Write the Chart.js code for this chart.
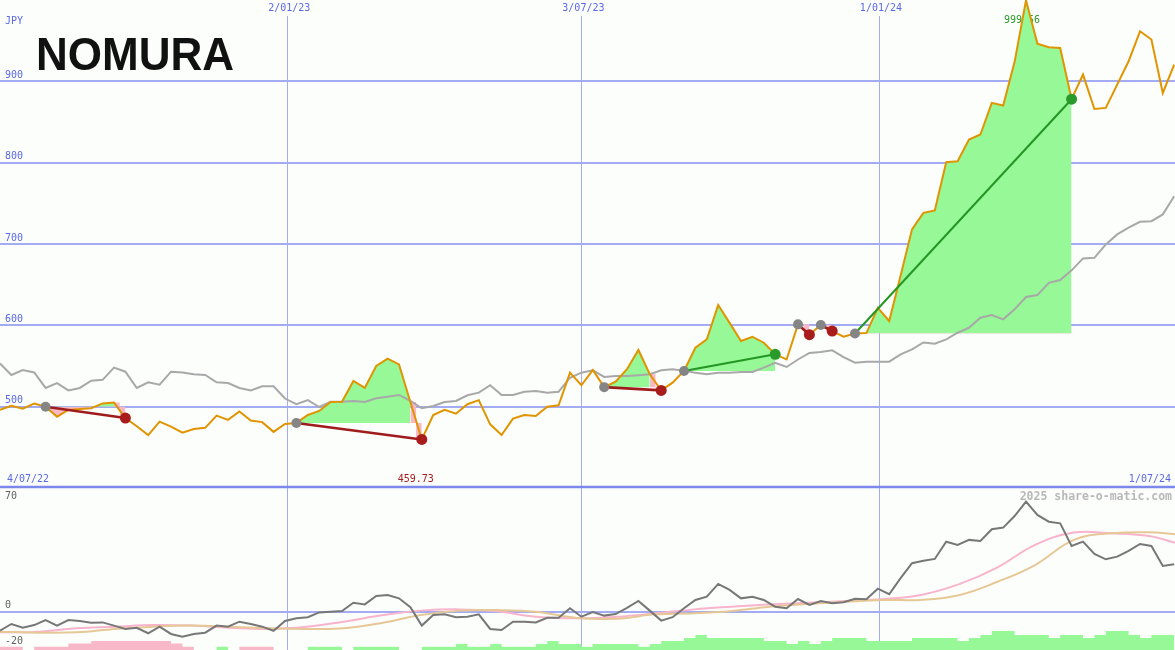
<!DOCTYPE html>
<html>
<head>
<meta charset="utf-8">
<title>NOMURA - share-o-matic</title>
<script src="https://cdn.jsdelivr.net/npm/chart.js@4.4.1/dist/chart.umd.min.js"></script>
<style>
    html, body { margin: 0; padding: 0; background: #fcfefc; }
    #wrap { position: relative; width: 1175px; height: 650px; overflow: hidden; }
    canvas { position: absolute; left: 0; }
    #priceChart { top: 0; }
    #oscChart { top: 490px; }
</style>
</head>
<body>
<div id="wrap">
    <canvas id="priceChart" width="1175" height="490"></canvas>
    <canvas id="oscChart" width="1175" height="160"></canvas>
</div>
<script>
/**
 * Data (weekly, index 0 = 4/07/22)
 */
const brand = 'NOMURA';
const currency = 'JPY';
const dateStart = '4/07/22';
const dateEnd = '1/07/24';
const dateTicks = ['2/01/23', '3/07/23', '1/01/24'];
const dateTickIdx = [25.2, 51, 77.1];
const priceTicks = [500, 600, 700, 800, 900];
const oscTicks = [70, 0, -20];
const watermark = '2025 share-o-matic.com';

const price = [
    496, 501, 497.5, 503.7, 500, 487.7, 496, 497, 498, 504,
    505, 486, 476, 465, 481.6, 475.4, 468, 472.6, 474, 489,
    483.7, 494, 483, 481, 469, 478.7, 480, 489.8, 494.7, 505.8,
    506, 531.6, 523, 550, 559, 552, 505.8, 459.73, 489.8, 496,
    491.4, 503, 508, 478.3, 465.2, 485.3, 489.8, 488.6, 500, 501.7,
    541.8, 526.3, 545, 524, 530.7, 546, 569.7, 539.8, 520, 529.5,
    543.9, 572.5, 582.8, 625, 603, 580.7, 586, 578.6, 564.4, 558,
    601.2, 588.5, 600.4, 593, 586, 590, 590.5, 621.6, 605.3, 661,
    718, 738.3, 741.3, 800.6, 801.8, 828.5, 834.6, 873.5, 870.3, 924,
    999.56, 946.4, 941.9, 941, 878, 908.3, 866, 867.3, 896, 924.7,
    961.5, 951.4, 885.7, 920.6,
];

const avgLine = [
    553, 539, 545, 542, 523, 529, 520, 523, 532, 533,
    548, 543, 523, 530, 527, 543, 542, 540, 539, 530,
    529, 523, 520, 525, 525, 510, 503, 508, 499.6, 506,
    506, 507, 505.8, 510.3, 512.3, 514.4, 507, 498, 500.9, 505.8,
    507, 514, 517.2, 526.3, 514.4, 514.4, 518.4, 519.3, 517.2, 518.4,
    535.6, 541.8, 544.7, 536.5, 537.7, 537.7, 538.6, 539.8, 544.7, 546,
    544, 541.8, 539.8, 541.8, 541.8, 542.6, 542.6, 548, 554, 548.8,
    558, 566, 567.2, 569.3, 561, 554, 555.3, 555.3, 555.3, 564.4,
    570.5, 579, 577.4, 582.8, 590.9, 597, 609.3, 612.7, 607.4, 619.7,
    634.8, 637.2, 652.3, 655.7, 667.6, 682.3, 683, 699.5, 711.8, 720,
    727.3, 728, 736.4, 758.8,
];

const oscLine = [
    -10.7, -6.9, -9, -7.5, -4.7, -7.8, -4.7, -5.2, -6.2, -6,
    -7.8, -9.7, -9, -12.1, -8.4, -12.5, -14, -12.5, -11.8, -7.8,
    -8.4, -5.6, -6.9, -8.4, -10.7, -5.2, -3.7, -3.1, -0.4, 0,
    0.4, 5, 4.1, 8.8, 9.4, 7.5, 2.5, -7.8, -1.9, -1.5,
    -3.1, -2.8, -1.5, -9.7, -10.3, -5.6, -5.6, -6, -3.4, -3.4,
    1.9, -2.8, -0.2, -2.2, -1.3, 2.2, 6, 0.6, -5, -3.1,
    1.9, 6.6, 8.4, 15.6, 12.2, 7.5, 8.4, 6.6, 2.8, 1.9,
    7.1, 3.8, 6, 4.7, 5.3, 7.3, 7, 12.9, 9.8, 18.8,
    27.2, 28.6, 29.6, 39.3, 37.5, 40.3, 39.7, 46.3, 47.2, 53.7,
    61.8, 54.3, 50.5, 49.6, 36.9, 39.3, 32.4, 29.4, 30.9, 34.1,
    38, 36.9, 25.7, 26.6,
];

// smooth signal lines, read at these week positions
const sigX = [
    0, 3.4, 6.7, 10.1, 13.4, 16.8, 20.1, 23.5, 26.9, 30.2,
    33.6, 36.9, 40.3, 43.6, 47, 50.9, 54.2, 57.5, 60.9, 64.2,
    67.5, 70.9, 74.2, 77.5, 80.8, 84.2, 87.5, 90.8, 94.2, 97.5,
    100.8, 103.07,
];
const sigPink = [
    -11.6, -11.2, -9.3, -8.4, -7.5, -7.8, -9, -9.7, -8.4, -5.6,
    -1.9, 0.6, 1.3, 0.2, -2.8, -3.7, -2.8, -0.9, 1.3, 2.8,
    4.1, 5, 6, 7.1, 9.4, 15.6, 24.9, 37.5, 44.4, 44,
    42.5, 38.7,
];
const sigTan = [
    -11.2, -11.8, -11.6, -9.7, -8.4, -7.8, -8.4, -9.3, -9.7, -9.3,
    -6.2, -1.9, 0.6, 0.9, 0, -3.7, -3.9, -1.5, -0.9, 0.4,
    2.8, 4.3, 5.6, 6.6, 6.6, 9.4, 16.8, 26.2, 40.3, 44,
    44.6, 43.5,
];

const histogram = [
    -1.1, -1.1, -1.1, 0, -1.1, -1.1, -1.1, -2.2, -2.2, -3,
    -3, -3, -3, -3, -3, -3, -2.2, -1.1, 0, 0,
    1.1, 0, -1.1, -1.1, -1.1, 0, 0, 0, 1.1, 1.1,
    1.1, 0, 1.1, 1.1, 1.1, 1.1, 0, 0, 1.1, 1.1,
    1.1, 2, 1.1, 1.1, 2, 1.1, 1.1, 1.1, 2, 3,
    2, 2, 1.1, 2, 2, 2, 2, 1.1, 2, 3,
    3, 4, 5, 4, 4, 4, 4, 4, 3, 3,
    2, 3, 2, 3, 4, 4, 4, 3, 3, 3,
    3, 4, 4, 4, 4, 3, 4, 5, 6.3, 6.3,
    5, 5, 5, 4, 5, 5, 4, 5, 6.3, 6.3,
    5, 4, 5, 5,
];

// trades: entry / exit week index
const tradeEntry = [4, 26, 53, 60, 70, 72, 75];
const tradeExit = [11, 37, 58, 68, 71, 73, 94];

/**
 * Styles
 */
const X_MAX = 103.07;
const COLORS = {
    bg: '#fcfefc',
    grid: '#a3acf2',
    axis: '#7b87ea',
    label: '#5a68e6',
    oscLabel: '#606060',
    price: '#e09400',
    avg: '#a8a8a8',
    osc: '#777777',
    pink: '#f8b4cc',
    tan: '#e6c896',
    gain: '#96f896',
    loss: '#f8b8c8',
    entryDot: '#858585',
    winDot: '#2a9a2a',
    lossDot: '#a81c1c',
    winLine: '#249624',
    lossLine: '#a01c1c',
    watermark: '#b8b8b8',
};
const FONT = '10px "DejaVu Sans Mono", monospace';

const pts = (arr) => arr.map((v, i) => ({ x: i, y: v }));
const slice = (from, to) => price.slice(from, to + 1).map((v, k) => ({ x: from + k, y: v }));

/**
 * Trade datasets (lines, dots, fills)
 */
function buildTradeSets() {
    const sets = [];
    tradeEntry.forEach((e, k) => {
        const x = tradeExit[k];
        const win = price[x] > price[e];
        const level = price[e];

        sets.push({
            data: [{ x: e, y: price[e] }, { x: x, y: price[x] }],
            borderColor: win ? COLORS.winLine : COLORS.lossLine,
            borderWidth: win ? 2 : 2.6,
            pointRadius: 0,
            order: 2,
        });

        const bodyEnd = win ? x : x - 1;
        if (bodyEnd > e) {
            sets.push({
                data: slice(e, bodyEnd),
                borderWidth: 0,
                pointRadius: 0,
                fill: { target: { value: level }, above: COLORS.gain, below: COLORS.loss },
                order: 10,
            });
        }
        if (!win) {
            sets.push({
                data: slice(x - 1, x),
                borderWidth: 0,
                pointRadius: 0,
                stepped: 'middle',
                fill: { target: { value: level }, above: COLORS.loss, below: COLORS.loss },
                order: 10,
            });
        }
    });

    sets.push({
        data: tradeEntry.map(e => ({ x: e, y: price[e] })),
        showLine: false,
        pointRadius: 5,
        pointBorderWidth: 0,
        pointBackgroundColor: COLORS.entryDot,
        order: 1,
    });
    sets.push({
        data: tradeExit.map(x => ({ x: x, y: price[x] })),
        showLine: false,
        pointRadius: 5.5,
        pointBorderWidth: 0,
        pointBackgroundColor: (c) => {
            const k = c.dataIndex;
            return price[tradeExit[k]] > price[tradeEntry[k]] ? COLORS.winDot : COLORS.lossDot;
        },
        order: 0,
    });
    return sets;
}

function line(ctx, x1, y1, x2, y2) {
    ctx.beginPath();
    ctx.moveTo(x1, y1);
    ctx.lineTo(x2, y2);
    ctx.stroke();
}

const bgPlugin = {
    id: 'bgFill',
    beforeDraw(chart) {
        const { ctx, width, height } = chart;
        ctx.save();
        ctx.fillStyle = COLORS.bg;
        ctx.fillRect(0, 0, width, height);
        ctx.restore();
    },
};

/**
 * Price panel grid and texts
 */
const priceDecor = {
    id: 'priceDecor',
    beforeDatasetsDraw(chart) {
        const { ctx, chartArea: a, scales: { x, y } } = chart;
        ctx.save();

        ctx.strokeStyle = COLORS.grid;
        ctx.lineWidth = 2;
        priceTicks.forEach(v => {
            const py = Math.round(y.getPixelForValue(v));
            line(ctx, a.left, py, a.right, py);
        });
        ctx.lineWidth = 1;
        dateTickIdx.forEach(v => {
            const px = Math.round(x.getPixelForValue(v)) + 0.5;
            line(ctx, px, a.top + 16, px, chart.height);
        });
        ctx.strokeStyle = COLORS.axis;
        ctx.lineWidth = 2.5;
        const sy = y.getPixelForValue(400) - 1;
        line(ctx, a.left, sy, a.right, sy);

        ctx.font = FONT;
        ctx.textBaseline = 'middle';
        ctx.fillStyle = COLORS.label;
        ctx.textAlign = 'left';
        ctx.fillText(currency, 5, a.top + 21);
        priceTicks.forEach(v => ctx.fillText(String(v), 5, y.getPixelForValue(v) - 6));
        ctx.textAlign = 'center';
        dateTicks.forEach((t, k) => ctx.fillText(t, x.getPixelForValue(dateTickIdx[k]) + 2, a.top + 8));
        ctx.textAlign = 'left';
        ctx.fillText(dateStart, 7, a.bottom - 9);
        ctx.textAlign = 'right';
        ctx.fillText(dateEnd, a.right - 4, a.bottom - 9);

        // min / max labels
        const maxV = Math.max(...price);
        const minV = Math.min(...price);
        ctx.textAlign = 'center';
        ctx.fillStyle = COLORS.winDot;
        ctx.fillText(maxV.toFixed(2), x.getPixelForValue(price.indexOf(maxV)) - 4, a.top + 20);
        ctx.fillStyle = COLORS.lossDot;
        ctx.fillText(minV.toFixed(2), x.getPixelForValue(price.indexOf(minV)) - 6, a.bottom - 9);

        // logo
        ctx.font = 'bold 46px "Liberation Sans", Arial, sans-serif';
        ctx.textBaseline = 'alphabetic';
        ctx.textAlign = 'left';
        ctx.fillStyle = '#111111';
        const w = ctx.measureText(brand).width;
        ctx.translate(36, 70);
        ctx.scale(198 / w, 1);
        ctx.fillText(brand, 0, 0);

        ctx.restore();
    },
};

/**
 * Oscillator panel grid and texts
 */
const oscDecor = {
    id: 'oscDecor',
    beforeDatasetsDraw(chart) {
        const { ctx, chartArea: a, scales: { x, y } } = chart;
        ctx.save();

        ctx.strokeStyle = COLORS.grid;
        ctx.lineWidth = 1;
        dateTickIdx.forEach(v => {
            const px = Math.round(x.getPixelForValue(v)) + 0.5;
            line(ctx, px, 0, px, a.bottom);
        });
        ctx.lineWidth = 2;
        const zy = Math.round(y.getPixelForValue(0));
        line(ctx, a.left, zy, a.right, zy);

        ctx.font = FONT;
        ctx.textBaseline = 'middle';
        ctx.textAlign = 'left';
        ctx.fillStyle = COLORS.oscLabel;
        oscTicks.forEach(v => {
            const py = Math.min(Math.max(y.getPixelForValue(v) - 6, 6), a.bottom - 8);
            ctx.fillText(String(v), 5, py);
        });

        ctx.font = 'bold 11.5px "DejaVu Sans Mono", monospace';
        ctx.textAlign = 'right';
        ctx.fillStyle = COLORS.watermark;
        ctx.fillText(watermark, a.right - 3, 7);

        ctx.restore();
    },
};

const baseScales = (yMin, yMax) => ({
    x: { type: 'linear', min: 0, max: X_MAX, display: false },
    y: { type: 'linear', min: yMin, max: yMax, display: false },
});

const baseOptions = {
    responsive: false,
    animation: false,
    events: [],
    plugins: { legend: { display: false }, tooltip: { enabled: false } },
};

new Chart(document.getElementById('priceChart'), {
    type: 'line',
    data: {
        datasets: [
            {
                data: pts(price),
                borderColor: COLORS.price,
                borderWidth: 2,
                pointRadius: 0,
                tension: 0,
                order: 3,
            },
            {
                data: pts(avgLine),
                borderColor: COLORS.avg,
                borderWidth: 2,
                pointRadius: 0,
                order: 4,
            },
            ...buildTradeSets(),
        ],
    },
    options: {
        ...baseOptions,
        layout: { autoPadding: false, padding: { top: 0, left: 0, right: 0, bottom: 2 } },
        scales: baseScales(400, 1000),
    },
    plugins: [bgPlugin, priceDecor],
});

new Chart(document.getElementById('oscChart'), {
    type: 'line',
    data: {
        datasets: [
            {
                data: pts(oscLine),
                borderColor: COLORS.osc,
                borderWidth: 2,
                pointRadius: 0,
                order: 0,
            },
            {
                data: sigX.map((v, i) => ({ x: v, y: sigPink[i] })),
                borderColor: COLORS.pink,
                borderWidth: 2,
                pointRadius: 0,
                tension: 0.4,
                order: 2,
            },
            {
                data: sigX.map((v, i) => ({ x: v, y: sigTan[i] })),
                borderColor: COLORS.tan,
                borderWidth: 2,
                pointRadius: 0,
                tension: 0.4,
                order: 1,
            },
            {
                data: histogram.map((v, i) => ({ x: i, y: v > 0 ? v : 0 })),
                yAxisID: 'yh',
                stepped: 'after',
                borderWidth: 0,
                pointRadius: 0,
                fill: 'start',
                backgroundColor: COLORS.gain,
                order: 5,
            },
            {
                data: histogram.map((v, i) => ({ x: i, y: v < 0 ? -v : 0 })),
                yAxisID: 'yh',
                stepped: 'after',
                borderWidth: 0,
                pointRadius: 0,
                fill: 'start',
                backgroundColor: COLORS.loss,
                order: 5,
            },
        ],
    },
    options: {
        ...baseOptions,
        layout: { autoPadding: false, padding: 0 },
        scales: {
            ...baseScales(-21.5, 68.3),
            yh: { type: 'linear', min: 0, max: 160 / 3, display: false },
        },
    },
    plugins: [bgPlugin, oscDecor],
});
</script>
</body>
</html>
